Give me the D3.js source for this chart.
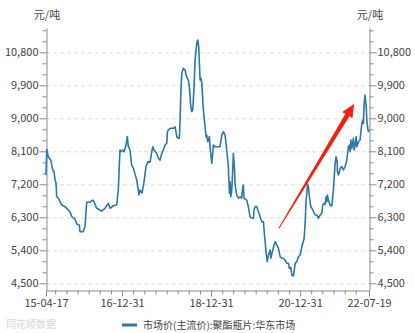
<!DOCTYPE html>
<html>
<head>
<meta charset="utf-8">
<script src="https://cdn.jsdelivr.net/npm/d3@7"></script>
<style>
  html, body { margin: 0; padding: 0; background: #fff; }
  svg { display: block; }
  text { font-family: "Noto Sans CJK SC", "Noto Sans", sans-serif; }
</style>
</head>
<body>
<svg id="chart" width="415" height="333"></svg>
<script>
// 市场价(主流价):聚酯瓶片:华东市场, 元/吨
const dates = [
  "2015-04-17","2015-04-23","2015-05-06","2015-05-26","2015-06-11","2015-06-22","2015-06-30","2015-07-08",
  "2015-07-14","2015-07-27","2015-08-10","2015-08-24","2015-09-20","2015-10-17","2015-10-31","2015-11-14",
  "2015-12-11","2015-12-25","2016-01-15","2016-01-21","2016-02-17","2016-03-02","2016-03-16","2016-04-12",
  "2016-05-04","2016-05-15","2016-06-06","2016-07-03","2016-07-17","2016-08-13","2016-09-09","2016-09-23",
  "2016-10-20","2016-11-17","2016-11-30","2016-12-14","2016-12-23","2017-01-06","2017-01-16","2017-02-02",
  "2017-02-12","2017-02-21","2017-03-06","2017-03-20","2017-04-03","2017-04-30","2017-05-19","2017-05-28",
  "2017-06-13","2017-06-29","2017-07-16","2017-08-01","2017-08-18","2017-09-01","2017-09-09","2017-09-19",
  "2017-10-12","2017-10-25","2017-11-08","2017-11-22","2017-12-05","2017-12-19","2018-01-02","2018-01-07",
  "2018-01-15","2018-01-29","2018-02-25","2018-03-11","2018-03-25","2018-04-07","2018-04-15","2018-04-21",
  "2018-04-27","2018-05-05","2018-05-18","2018-06-01","2018-06-09","2018-06-20","2018-06-28","2018-07-06",
  "2018-07-18","2018-07-26","2018-08-03","2018-08-14","2018-08-22","2018-09-05","2018-09-13","2018-09-21",
  "2018-10-02","2018-10-10","2018-10-16","2018-10-29","2018-11-12","2018-11-20","2018-11-26","2018-12-04",
  "2018-12-17","2018-12-23","2019-01-06","2019-01-14","2019-01-19","2019-02-02","2019-03-15","2019-03-29",
  "2019-04-11","2019-04-25","2019-05-09","2019-05-22","2019-05-31","2019-06-05","2019-06-11","2019-06-19",
  "2019-06-27","2019-07-02","2019-07-11","2019-07-16","2019-07-29","2019-08-12","2019-08-26","2019-09-08",
  "2019-09-18","2019-09-22","2019-09-28","2019-10-20","2019-11-02","2019-11-16","2019-11-29","2019-12-14",
  "2019-12-19","2019-12-28","2020-01-10","2020-01-24","2020-02-07","2020-02-21","2020-03-05","2020-03-10",
  "2020-03-19","2020-03-27","2020-04-06","2020-04-15","2020-04-29","2020-05-04","2020-05-21","2020-05-31",
  "2020-06-09","2020-06-23","2020-07-06","2020-07-20","2020-08-03","2020-08-16","2020-08-30","2020-09-13",
  "2020-09-26","2020-10-04","2020-10-15","2020-10-24","2020-11-06","2020-11-14","2020-11-20","2020-12-04",
  "2020-12-17","2020-12-31","2021-01-14","2021-01-22","2021-02-02","2021-02-10","2021-02-18","2021-02-24",
  "2021-03-01","2021-03-09","2021-03-17","2021-03-29","2021-04-14","2021-04-25","2021-05-03","2021-05-17",
  "2021-05-30","2021-06-13","2021-06-27","2021-07-05","2021-07-16","2021-07-24","2021-08-01","2021-08-07",
  "2021-08-12","2021-08-20","2021-09-03","2021-09-17","2021-09-30","2021-10-14","2021-10-22","2021-10-31",
  "2021-11-02","2021-11-11","2021-11-24","2021-12-08","2021-12-21","2022-01-04","2022-01-18","2022-01-31",
  "2022-02-09","2022-02-14","2022-02-20","2022-02-28","2022-03-07","2022-03-13","2022-03-19","2022-03-27",
  "2022-04-05","2022-04-10","2022-04-23","2022-05-07","2022-05-15","2022-05-24","2022-05-29","2022-06-03",
  "2022-06-09","2022-06-17","2022-06-26","2022-07-01","2022-07-09","2022-07-14","2022-07-19"
];
const prices = [
  7450, 8150, 7950, 7860, 7590, 7540, 7320, 7240,
  6860, 6820, 6725, 6635, 6590, 6500, 6450, 6320,
  6250, 6120, 6090, 5910, 5910, 6040, 6710, 6710,
  6770, 6725, 6545, 6500, 6470, 6545, 6680, 6545,
  6615, 6635, 7045, 8135, 8090, 8135, 8090, 8270,
  8500, 8225, 8135, 7725, 7635, 7320, 6910, 7045,
  6960, 7260, 7700, 7820, 7800, 8090, 8225, 8135,
  8045, 7910, 7860, 8045, 8135, 8270, 8320, 8634,
  8680, 8727, 8727, 8770, 8500, 8455, 8455, 8953,
  9680, 10227, 10363, 10317, 10180, 10090, 10044, 9862,
  9316, 9180, 9226, 9862, 10589, 11045, 11135, 10952,
  10044, 10090, 9954, 9226, 8770, 8500, 8544, 8361,
  8500, 8225, 7772, 8045, 8270, 8225, 8225, 8544,
  8634, 8544, 8135, 7680, 6955, 7270, 6860, 7045,
  7590, 8045, 7680, 7200, 6920, 6820, 6860, 6825,
  7134, 7180, 6820, 6770, 6590, 6316, 6280, 6273,
  6500, 6590, 6590, 6453, 6316, 6180, 6180, 5954,
  5634, 5318, 5090, 5272, 5408, 5182, 5408, 5544,
  5634, 5544, 5454, 5225, 5182, 5182, 5135, 5045,
  5045, 4909, 4936, 4726, 4700, 4882, 5045, 5090,
  5225, 5272, 5498, 5591, 5727, 6136, 6772, 6954,
  7208, 7126, 6862, 6590, 6500, 6417, 6363, 6363,
  6273, 6363, 6409, 6635, 6682, 6650, 6862, 6725,
  6908, 6772, 6635, 6608, 7044, 7772, 7952, 7808,
  7543, 7453, 7636, 7680, 7590, 7680, 7862, 8225,
  8270, 8089, 8408, 8181, 8326, 8454, 8135, 8270,
  8498, 8225, 8361, 8408, 8680, 8907, 8953, 8863,
  9409, 9635, 9316, 8953, 8727, 8634, 8680
];
const dateLabels = ["2015-04-17", "2016-12-31", "2018-12-31", "2020-12-31", "2022-07-19"];
const yMajorTicks = [4500, 5400, 6300, 7200, 8100, 9000, 9900, 10800];
const unitLabel = "元/吨";
const seriesName = "市场价(主流价):聚酯瓶片:华东市场";
// trend arrow: from [date, price] to [date, price]
const arrowFrom = ["2020-07-10", 6000];
const arrowTo = ["2022-03-19", 9390];

const parse = d3.timeParse("%Y-%m-%d");
const fmt = d3.timeFormat("%y-%m-%d");
const data = dates.map((d, i) => ({ date: parse(d), value: prices[i] }));

const W = 415, H = 333;
const margin = { left: 46, right: 46, top: 28, bottom: 43 };
const svg = d3.select("#chart");

const x = d3.scaleTime()
  .domain([parse(dates[0]), parse(dates[dates.length - 1])])
  .range([margin.left, W - margin.right]);
const y = d3.scaleLinear()
  .domain([4317, 11463])
  .range([H - margin.bottom, margin.top]);

const axisColor = "#8c8c8c";
const textColor = "#444";
const lineColor = "#2a79a9";

// dashed grid at the major price levels
svg.append("g")
  .selectAll("line")
  .data(yMajorTicks)
  .join("line")
  .attr("x1", x.range()[0]).attr("x2", x.range()[1])
  .attr("y1", d => y(d) + 0.5).attr("y2", d => y(d) + 0.5)
  .attr("stroke", "#dcdcdc")
  .attr("stroke-dasharray", "4,3")
  .attr("stroke-width", 1);

// price axes, minor ticks every 300
const yMinor = d3.range(4500, 11463, 300).filter(v => !yMajorTicks.includes(v));
function styleAxis(g) {
  g.select(".domain").attr("stroke", axisColor);
  g.selectAll(".tick line").attr("stroke", axisColor);
  g.selectAll(".tick text").attr("fill", textColor).style("font-size", "11px");
}
const fmtNum = d3.format(",");
[["left", x.range()[0]], ["right", x.range()[1]]].forEach(([side, pos]) => {
  const mk = side === "left" ? d3.axisLeft : d3.axisRight;
  svg.append("g")
    .attr("transform", `translate(${pos + 0.5},0)`)
    .call(mk(y).tickValues(yMinor).tickSize(4).tickFormat(""))
    .call(g => g.select(".domain").remove())
    .selectAll("line").attr("stroke", axisColor);
  svg.append("g")
    .attr("transform", `translate(${pos + 0.5},0)`)
    .call(mk(y).tickValues(yMajorTicks).tickSize(7).tickSizeOuter(0).tickPadding(1).tickFormat(fmtNum))
    .call(styleAxis);
  svg.append("text")
    .attr("x", pos + 1).attr("y", 19)
    .attr("text-anchor", "middle")
    .attr("fill", textColor)
    .style("font-size", "11px")
    .text(unitLabel);
});

// date axis: quarterly minor ticks, labelled major ticks
const [d0, d1] = x.domain();
const labelDates = dateLabels.map(parse);
const quarterTicks = d3.timeMonth.every(3).range(d0, d1)
  .filter(q => labelDates.every(l => Math.abs(x(q) - x(l)) > 4));
svg.append("g")
  .attr("transform", `translate(0,${y.range()[0] + 0.5})`)
  .call(d3.axisBottom(x).tickValues(quarterTicks).tickSize(4).tickFormat(""))
  .call(g => g.select(".domain").remove())
  .selectAll("line").attr("stroke", axisColor);
svg.append("g")
  .attr("transform", `translate(0,${y.range()[0] + 0.5})`)
  .call(d3.axisBottom(x).tickValues(labelDates).tickSize(6).tickSizeOuter(0).tickPadding(3).tickFormat(fmt))
  .call(styleAxis);

// price line
svg.append("path")
  .datum(data)
  .attr("fill", "none")
  .attr("stroke", lineColor)
  .attr("stroke-width", 1.6)
  .attr("stroke-linejoin", "round")
  .attr("d", d3.line().x(d => x(d.date)).y(d => y(d.value)));

// tapered trend arrow
(function drawArrow() {
  const x0 = x(parse(arrowFrom[0])), y0 = y(arrowFrom[1]);
  const x1 = x(parse(arrowTo[0])), y1 = y(arrowTo[1]);
  const dx = x1 - x0, dy = y1 - y0, len = Math.hypot(dx, dy);
  const ux = dx / len, uy = dy / len, nx = -uy, ny = ux;
  const headLen = 13, headW = 6, tailW = 0.5, neckW = 2.4;
  const bx = x1 - ux * headLen, by = y1 - uy * headLen;
  const pts = [
    [x0 + nx * tailW, y0 + ny * tailW],
    [bx + nx * neckW, by + ny * neckW],
    [bx + nx * headW, by + ny * headW],
    [x1, y1],
    [bx - nx * headW, by - ny * headW],
    [bx - nx * neckW, by - ny * neckW],
    [x0 - nx * tailW, y0 - ny * tailW]
  ];
  svg.append("path")
    .attr("d", d3.line()(pts) + "Z")
    .attr("fill", "#f2200f");
})();

// legend
const lg = svg.append("g").attr("transform", "translate(122,325)");
lg.append("line").attr("x1", 0).attr("x2", 15).attr("y1", 0).attr("y2", 0)
  .attr("stroke", lineColor).attr("stroke-width", 3);
lg.append("text").attr("x", 21).attr("y", 3.5)
  .attr("fill", textColor).style("font-size", "10px")
  .text(seriesName);

// source mark
svg.append("text").attr("x", 6).attr("y", 328)
  .attr("fill", "#d6d6d6").style("font-size", "10px")
  .text("同花顺数据");
</script>
</body>
</html>
